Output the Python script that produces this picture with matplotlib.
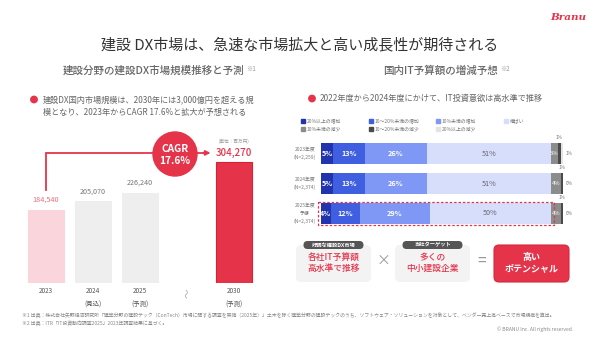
import matplotlib
matplotlib.use("Agg")
import matplotlib.pyplot as plt
from matplotlib.patches import FancyBboxPatch, Circle, Rectangle

plt.rcParams['font.family'] = ['Noto Sans CJK JP', 'DejaVu Sans']

RED = '#e5334a'
GRAY_TXT = '#666666'
DARK_TXT = '#333333'

# ---- left panel data: construction DX market size (million yen)
years = ['2023', '2024\n(見込)', '2025\n(予測)', '2030\n(予測)']
year_pos = [0, 1, 2, 4]
market = [184540, 205070, 226240, 304270]
bar_colors = ['#fad6dc', '#eeeeee', '#eeeeee', RED]
label_colors = ['#ec6d80', '#777777', '#777777', RED]
cagr_text = 'CAGR\n17.6%'

# ---- right panel data: IT budget change outlook (%)
rows = ['2023年度\n(N=2,259)', '2024年度\n(N=2,374)', '2025年度\n予想\n(N=2,374)']
categories = ['20%以上の増加', '10～20%未満の増加', '10%未満の増加', '横ばい',
              '10%未満の減少', '10～20%未満の減少', '20%以上の減少']
shares = [
    [5, 13, 26, 51, 3, 1, 1],
    [5, 13, 26, 51, 4, 1, 0],
    [4, 12, 29, 50, 4, 1, 0],
]
cat_colors = ['#2234ad', '#3f5fe0', '#7f98f6', '#d7defc', '#8c8c8c', '#4a4a4a', '#e4e4e4']
seg_text_colors = ['white', 'white', 'white', '#666666', 'white', None, None]

W, H = 600, 338
fig = plt.figure(figsize=(W / 100, H / 100), dpi=100)
fig.patch.set_facecolor('white')


def px_axes(x0, y0, x1, y1, **kw):
    """Axes placed by pixel box (top-left origin)."""
    return fig.add_axes([x0 / W, 1 - y1 / H, (x1 - x0) / W, (y1 - y0) / H], **kw)


# ---------------- left bar chart ----------------
axL = px_axes(22.5, 140, 257.5, 283)
ymax = max(market) * 143 / 121
axL.bar(year_pos, market, width=0.77, color=bar_colors,
        edgecolor=[c if i < 3 else '#d8232f' for i, c in enumerate(bar_colors)], linewidth=0.8)
for i, (p, v) in enumerate(zip(year_pos, market)):
    big = i == 3
    axL.annotate(f'{v:,}', (p, v), xytext=(0, 3 if big else 4.5), textcoords='offset points',
                 ha='center', va='bottom', color=label_colors[i],
                 fontsize=7 if big else 5.2, fontweight='medium' if big else 'normal')
axL.set_xlim(-0.5, 4.5)
axL.set_ylim(0, ymax)
axL.set_xticks(year_pos)
axL.set_xticklabels(years, fontsize=4.6, color='#555555', linespacing=1.9)
axL.tick_params(axis='x', length=0, pad=3)
axL.set_yticks([])
for s in axL.spines.values():
    s.set_visible(False)
axL.patch.set_alpha(0)

# growth arrow from 2023 to 2030
y_arrow = max(market) * 1.075
axL.plot([0, 0, 3.45], [market[0] * 1.27, y_arrow, y_arrow], color=RED, lw=1.3,
         clip_on=False, solid_joinstyle='miter')
axL.annotate('', xy=(3.56, y_arrow), xytext=(3.3, y_arrow),
             arrowprops=dict(arrowstyle='-|>', color=RED, lw=1.3, mutation_scale=7),
             annotation_clip=False)
axL.text(3, -0.04 * ymax, '〜', rotation=90, ha='center', va='top', fontsize=7,
         color='#aaaaaa', transform=axL.transData, clip_on=False)
axL.text(year_pos[3], max(market) * 1.175, '(単位：百万円)', ha='center', va='center',
         fontsize=3.3, color='#999999', clip_on=False)

# ---------------- right stacked bar chart ----------------
axR = px_axes(321, 138, 563, 229)
n = len(rows)
for r in range(n):
    left = 0
    for c, val in enumerate(shares[r]):
        axR.barh(r, val, left=left, height=0.7, color=cat_colors[c], linewidth=0)
        tc = seg_text_colors[c]
        if tc is not None and val >= 3:
            bold = c < 3
            axR.text(left + val / 2, r, f'{val}%', ha='center', va='center',
                     color=tc, fontsize=5.2 if c < 4 else 4.2,
                     fontweight='bold' if bold else 'normal')
        if c == 5:
            axR.text(left + val / 2, r - 0.45, f'{val}%', ha='center', va='bottom',
                     fontsize=3.4, color='#777777')
        if c == 6:
            axR.text(left + val + 1.0, r, f'{val}%', ha='left', va='center',
                     fontsize=3.4, color='#777777')
        left += val
    axR.text(-6.6, r, rows[r], ha='center', va='center', fontsize=3.5,
             color='#777777', linespacing=1.7)
axR.set_xlim(0, 100)
axR.set_ylim(n - 1 + 0.517, -0.517)
axR.axis('off')
axR.add_patch(Rectangle((-1.2, n - 1 - 0.38), 97.4, 0.78, fill=False,
                        edgecolor=RED, lw=0.9, ls=(0, (2, 1.5)), clip_on=False))

# ---------------- overlay in pixel coordinates ----------------
ov = fig.add_axes([0, 0, 1, 1], zorder=5)
ov.set_xlim(0, W)
ov.set_ylim(H, 0)
ov.axis('off')
ov.patch.set_alpha(0)

ov.text(568, 17, 'Branu', ha='center', va='center', fontsize=7.5, color=RED,
        fontweight='bold', style='italic', family='DejaVu Serif')
ov.text(300, 45, '建設 DX市場は、急速な市場拡大と高い成長性が期待される',
        ha='center', va='center', fontsize=10.8, color=DARK_TXT)

# section headings
ov.text(244, 71, '建設分野の建設DX市場規模推移と予測', ha='right', va='center',
        fontsize=7.6, color=GRAY_TXT, fontweight='medium')
ov.text(246, 69, '※1', ha='left', va='center', fontsize=4.5, color='#999999')
ov.text(498, 71, '国内IT予算額の増減予想', ha='right', va='center',
        fontsize=7.6, color=GRAY_TXT, fontweight='medium')
ov.text(500, 69, '※2', ha='left', va='center', fontsize=4.5, color='#999999')

# bullet notes
ov.add_patch(Circle((34, 99.5), 3.2, color=RED))
ov.text(43, 99.5, '建設DX国内市場規模は、2030年には3,000億円を超える規',
        ha='left', va='center', fontsize=5.9, color=GRAY_TXT)
ov.text(43, 112, '模となり、2023年からCAGR 17.6%と拡大が予想される',
        ha='left', va='center', fontsize=5.9, color=GRAY_TXT)
ov.add_patch(Circle((312, 98.5), 3.2, color=RED))
ov.text(320, 98.5, '2022年度から2024年度にかけて、IT投資意欲は高水準で推移',
        ha='left', va='center', fontsize=5.9, color=GRAY_TXT)

# CAGR badge
ov.add_patch(Circle((175, 154), 22, color=RED, zorder=3))
ov.text(175, 155, cagr_text, ha='center', va='center', fontsize=7.3, color='white',
        fontweight='bold', linespacing=1.25, zorder=4)

# legend for the right chart
leg_x = [303, 371, 438, 506]
for i, (lab, col) in enumerate(zip(categories, cat_colors)):
    row, colm = divmod(i, 4)
    x = leg_x[colm]
    y = 121 + row * 8
    ov.add_patch(Rectangle((x - 1.8, y - 1.8), 3.6, 3.6, color=col))
    ov.text(x + 3.5, y, lab, ha='left', va='center', fontsize=3.5, color='#777777')

# summary boxes
def soft_box(x0, y0, x1, y1, fc, ec='none', lw=0):
    ov.add_patch(FancyBboxPatch((x0, y0), x1 - x0, y1 - y0,
                                boxstyle='round,pad=0,rounding_size=5',
                                fc=fc, ec=ec, lw=lw))

def tag(cx, cy, text):
    ov.add_patch(FancyBboxPatch((cx - 30, cy - 4), 60, 8,
                                boxstyle='round,pad=0,rounding_size=4',
                                fc='#555555', ec='none', zorder=3))
    ov.text(cx, cy, text, ha='center', va='center', fontsize=3.8, color='white',
            fontweight='bold', zorder=4)

soft_box(296, 245, 371, 282, '#f3f3f3')
tag(333.5, 245, '好調な建設DX市場')
ov.text(333.5, 263, '各社IT予算額\n高水準で推移', ha='center', va='center',
        fontsize=6.3, color=RED, linespacing=1.3, fontweight='medium')

soft_box(395, 245, 470, 282, '#f3f3f3')
tag(432.5, 245, '当社ターゲット')
ov.text(432.5, 263, '多くの\n中小建設企業', ha='center', va='center',
        fontsize=6.3, color=RED, linespacing=1.3, fontweight='medium')

ov.text(383, 261, '×', ha='center', va='center', fontsize=10, color='#999999')
ov.text(482, 261, '=', ha='center', va='center', fontsize=11, color='#999999')

soft_box(494, 245, 569, 282, RED, ec='#d42a3c', lw=0.8)
ov.text(531.5, 263, '高い\nポテンシャル', ha='center', va='center',
        fontsize=6.5, color='white', fontweight='bold', linespacing=1.35)

# footnotes
ov.text(22, 315, '※1 出典：株式会社矢野経済研究所「建築分野の建設テック（ConTech）市場に関する調査を実施（2025年）」'
        '土木を除く建築分野の建設テックのうち、ソフトウェア・ソリューションを対象として、ベンダー売上高ベースで市場規模を算出。',
        ha='left', va='center', fontsize=3.55, color='#888888')
ov.text(22, 323, '※2 出典：ITR「IT投資動向調査2025」2023年調査結果に基づく。',
        ha='left', va='center', fontsize=3.55, color='#888888')
ov.text(573, 329, '© BRANU Inc. All rights reserved.', ha='right', va='center',
        fontsize=3.6, color='#888888')

fig.savefig('out.png', dpi=100, facecolor='white')
